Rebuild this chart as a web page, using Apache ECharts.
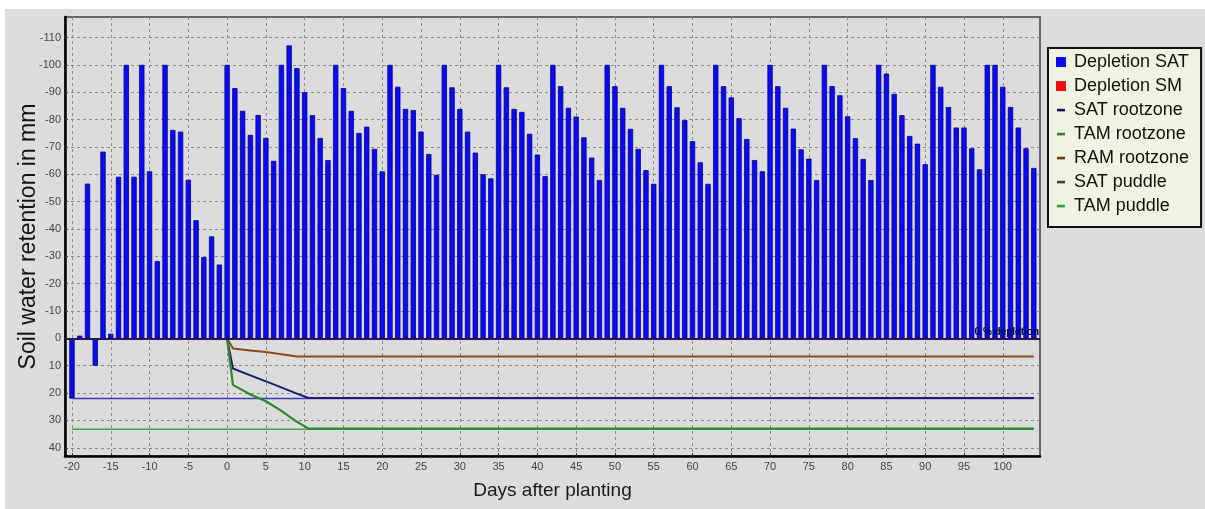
<!DOCTYPE html>
<html><head><meta charset="utf-8">
<script src="https://cdn.jsdelivr.net/npm/echarts@6/dist/echarts.min.js"></script>
<style>html,body{margin:0;padding:0;background:#fff;} #c{width:1205px;height:509px;}</style>
</head><body><div id="c"></div>
<script>
// ---- data ----
const FIRST_DAY = -20;
// Depletion SAT per day (negative = depletion, drawn upward on the inverted axis)
const depletionSAT = [
  22, -1, -56.6, 10, -68.3, -1.7, -59.1, -100, -59.1, -100,
  -61.1, -28.3, -100, -76.2, -75.6, -58, -43.2, -29.7, -37.3, -27,
  -100, -91.5, -83.2, -74.4, -81.7, -73.3, -64.9, -100, -107.1, -98.8,
  -90, -81.6, -73.3, -65.2, -100, -91.5, -83.2, -75.1, -77.4, -69.3,
  -61.1, -100, -92, -83.9, -83.5, -75.6, -67.4, -59.8, -100, -91.8,
  -83.9, -75.6, -67.9, -60, -58.5, -100, -91.8, -83.9, -82.8, -74.8,
  -67.2, -59.3, -100, -92.2, -84.3, -81.1, -73.5, -66.1, -57.9, -100,
  -92.2, -84.3, -76.6, -69.3, -61.5, -56.5, -100, -92.2, -84.5, -79.8,
  -72.1, -64.4, -56.5, -100, -92.2, -88.1, -80.5, -72.9, -65.2, -61.1,
  -100, -92.2, -84.3, -76.7, -69.1, -65.7, -57.9, -100, -92.2, -88.9,
  -81.2, -73.2, -65.6, -57.9, -100, -96.8, -89.4, -81.6, -74, -71.2,
  -63.7, -100, -92, -84.6, -77.1, -77.1, -69.5, -61.8, -100, -100,
  -92, -84.6, -77.1, -69.5, -62.3
];
const depletionSM = [];
const satRootDays = [0, 0.75, 3, 6, 9, 10.5, 104];
const satRootVals = [0, 11, 13.5, 16.8, 20.2, 21.8, 21.8];
const tamRootDays = [0, 0.75, 3, 5, 7, 9, 10.5, 104];
const tamRootVals = [0, 17, 20.5, 23, 26.5, 30.5, 33, 33];
const ramRootDays = [0, 0.75, 3, 5, 7, 9, 104];
const ramRootVals = [0, 3.7, 4.4, 5, 5.8, 6.6, 6.6];
const satPuddleDays = [-20, 104];
const satPuddleVals = [22, 22];
const tamPuddleDays = [-20, 104];
const tamPuddleVals = [33.2, 33.2];
const xTicks = [-20,-15,-10,-5,0,5,10,15,20,25,30,35,40,45,50,55,60,65,70,75,80,85,90,95,100];
const yTicks = [-110,-100,-90,-80,-70,-60,-50,-40,-30,-20,-10,0,10,20,30,40];
const legendNames = ['Depletion SAT','Depletion SM','SAT rootzone','TAM rootzone','RAM rootzone','SAT puddle','TAM puddle'];
const legendColors = ['#0a0af5','#ee1111','#10105a','#3c7a3c','#6e3c12','#404040','#3c9c3c'];

// ---- chart ----
const pairs = (xs, ys) => xs.map((x, i) => [x, ys[i]]);
const barData = depletionSAT.map((v, i) => [FIRST_DAY + i, v]);
const FONT = 'Liberation Sans, Arial, sans-serif';
const linePath = 'path://M0,0M10,10M1,3.8h8v2.6h-8z';

const chart = echarts.init(document.getElementById('c'));
chart.setOption({
  animation: false,
  backgroundColor: 'transparent',
  graphic: [{type: 'rect', left: 5, top: 9, z: -100, silent: true,
    shape: {width: 1200, height: 500}, style: {fill: '#dcdcdc'}}],
  grid: {left: 65, right: 165, top: 17, bottom: 53, show: true,
    borderColor: '#666', borderWidth: 2, backgroundColor: 'transparent'},
  legend: {
    orient: 'vertical', left: 1048, top: 48,
    backgroundColor: '#eff3e3', borderColor: '#111', borderWidth: 2,
    padding: [5, 12, 12, 8], itemGap: 6, itemWidth: 10, itemHeight: 10,
    textStyle: {fontSize: 18, color: '#111', fontFamily: FONT, padding: [0,0,0,3]},
    data: legendNames.map((n, i) => ({
      name: n, icon: i < 2 ? 'rect' : linePath,
      itemStyle: {color: legendColors[i], borderWidth: 0}
    }))
  },
  xAxis: {
    type: 'value', min: -20.9, max: 104.8,
    name: 'Days after planting', nameLocation: 'middle', nameGap: 25,
    nameMoveOverlap: false,
    nameTextStyle: {fontSize: 19, color: '#1a1a1a', fontFamily: FONT},
    axisLine: {onZero: false, lineStyle: {color: '#000', width: 2.5}},
    axisTick: {show: true, customValues: xTicks, length: 3, inside: true, lineStyle: {color: '#333'}},
    axisLabel: {customValues: xTicks, fontSize: 11, color: '#444', margin: 5, fontFamily: FONT},
    splitLine: {show: true, lineStyle: {color: '#8a8a8a', type: [3, 3], width: 1}}
  },
  yAxis: {
    type: 'value', inverse: true, min: -117.5, max: 43,
    name: 'Soil water retention in mm', nameLocation: 'middle', nameGap: 25,
    nameMoveOverlap: false,
    nameTextStyle: {fontSize: 23, color: '#111', fontFamily: FONT},
    axisLine: {onZero: false, lineStyle: {color: '#000', width: 2.5}},
    axisTick: {show: true, customValues: yTicks, length: 3, inside: true, lineStyle: {color: '#333'}},
    axisLabel: {customValues: yTicks, fontSize: 11, color: '#444', margin: 4, fontFamily: FONT},
    splitLine: {show: true, lineStyle: {color: '#8a8a8a', type: [3, 3], width: 1}}
  },
  series: [
    {name: 'Depletion SAT', type: 'bar', stack: 'd', barWidth: 5.3, data: barData,
     itemStyle: {color: '#0a0af5', borderColor: '#00008a', borderWidth: 0.8},
     markLine: {silent: true, symbol: 'none', z: 10,
       lineStyle: {color: '#2c1450', width: 2, type: 'solid'},
       label: {show: true, position: 'insideEndTop', formatter: '0 % depletion',
         color: '#000040', fontSize: 10, fontWeight: 'bold', fontFamily: FONT, distance: 1},
       data: [{yAxis: 0}]}},
    {name: 'Depletion SM', type: 'bar', stack: 'd', barWidth: 5.3, data: depletionSM,
     itemStyle: {color: '#ee1111'}},
    {name: 'SAT puddle', type: 'line', symbol: 'none', data: pairs(satPuddleDays, satPuddleVals),
     lineStyle: {color: '#3a3ab8', width: 1.5}, itemStyle: {color: '#404040'}},
    {name: 'TAM puddle', type: 'line', symbol: 'none', data: pairs(tamPuddleDays, tamPuddleVals),
     lineStyle: {color: '#4aa04a', width: 1.5}, itemStyle: {color: '#3c9c3c'}},
    {name: 'RAM rootzone', type: 'line', symbol: 'none', data: pairs(ramRootDays, ramRootVals),
     lineStyle: {color: '#8a4a1a', width: 2}, itemStyle: {color: '#6e3c12'}},
    {name: 'SAT rootzone', type: 'line', symbol: 'none', data: pairs(satRootDays, satRootVals),
     lineStyle: {color: '#1c1c78', width: 2}, itemStyle: {color: '#10105a'}},
    {name: 'TAM rootzone', type: 'line', symbol: 'none', data: pairs(tamRootDays, tamRootVals),
     lineStyle: {color: '#2a8a2a', width: 2.2}, itemStyle: {color: '#3c7a3c'}}
  ]
});
</script></body></html>
